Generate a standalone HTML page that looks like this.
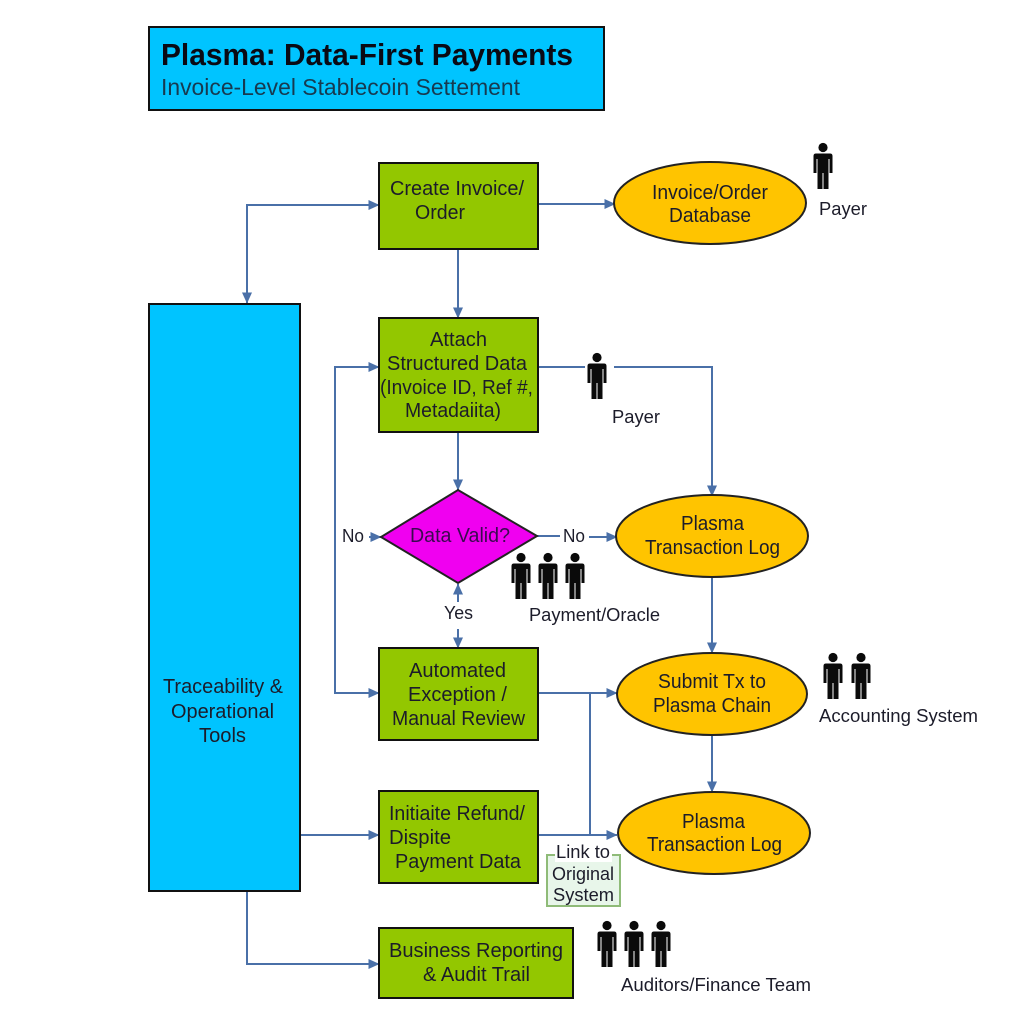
<!DOCTYPE html>
<html><head><meta charset="utf-8">
<style>
html,body{margin:0;padding:0;background:#fff}
svg{display:block}
text{font-family:"Liberation Sans",sans-serif;font-size:18px;fill:#1c1c2a}
g.b text{font-size:20px}
</style></head>
<body>
<svg width="1024" height="1024" viewBox="0 0 1024 1024" xmlns="http://www.w3.org/2000/svg">
<defs>
<marker id="a" markerWidth="12" markerHeight="12" refX="10.500" refY="5" orient="auto-start-reverse" markerUnits="userSpaceOnUse"><path d="M0 0L11 5L0 10Z" fill="#4a70a8"/></marker>
<g id="p" fill="#0a0a0a">
<circle cx="0" cy="4.500" r="4.600"/>
<path d="M-7 10.500Q-9.500 10.500-9.500 13V30H-6.500V16H-5.500V46H-0.500V30H0.500V46H5.500V16H6.500V30H9.500V13Q9.500 10.500 7 10.500Z"/>
</g>
</defs>
<rect width="1024" height="1024" fill="#fff"/>

<!-- connectors -->
<g fill="none" stroke="#4a70a8" stroke-width="2">
<path d="M538 204H615" marker-end="url(#a)"/>
<path d="M458 249V318" marker-end="url(#a)"/>
<path d="M379 205H247V303" marker-end="url(#a)" marker-start="url(#a)"/>
<path d="M458 432V490" marker-end="url(#a)"/>
<path d="M538 367H585M614 367H712V496" marker-end="url(#a)"/>
<path d="M379 367H335V693H379" marker-end="url(#a)" marker-start="url(#a)"/>
<path d="M369 537H381" marker-end="url(#a)"/>
<path d="M537 536H560"/>
<path d="M589 537H617" marker-end="url(#a)"/>
<path d="M458 602V584" marker-end="url(#a)"/>
<path d="M458 629V648" marker-end="url(#a)"/>
<path d="M538 693H617" marker-end="url(#a)"/>
<path d="M590 693V835"/>
<path d="M538 835H617" marker-end="url(#a)"/>
<path d="M712 577V653" marker-end="url(#a)"/>
<path d="M712 735V792" marker-end="url(#a)"/>
<path d="M300 835H379" marker-end="url(#a)"/>
<path d="M247 891V964H379" marker-end="url(#a)"/>
</g>

<!-- title -->
<rect x="149" y="27" width="455" height="83" fill="#00c4ff" stroke="#111" stroke-width="2"/>
<text x="161" y="65" style="font-size:30.500px;font-weight:700;fill:#0a0a14" textLength="412" lengthAdjust="spacingAndGlyphs">Plasma: Data-First Payments</text>
<text x="161" y="95" style="font-size:23.500px;fill:#173a50" textLength="359" lengthAdjust="spacingAndGlyphs">Invoice-Level Stablecoin Settement</text>

<!-- sidebar -->
<rect x="149" y="304" width="151" height="587" fill="#00c4ff" stroke="#111" stroke-width="2"/>

<!-- green boxes -->
<g fill="#93c700" stroke="#111" stroke-width="2">
<rect x="379" y="163" width="159" height="86"/>
<rect x="379" y="318" width="159" height="114"/>
<rect x="379" y="648" width="159" height="92"/>
<rect x="379" y="791" width="159" height="92"/>
<rect x="379" y="928" width="194" height="70"/>
</g>

<!-- ellipses -->
<g fill="#ffc400" stroke="#222" stroke-width="2">
<ellipse cx="710" cy="203" rx="96" ry="41"/>
<ellipse cx="712" cy="536" rx="96" ry="41"/>
<ellipse cx="712" cy="694" rx="95" ry="41"/>
<ellipse cx="714" cy="833" rx="96" ry="41"/>
</g>

<!-- diamond -->
<path d="M381 537L458 490L537 536L458 583Z" fill="#f000f0" stroke="#222" stroke-width="2"/>

<!-- link box -->
<rect x="547" y="855" width="73" height="51" fill="#e8f6ea" stroke="#8fbb78" stroke-width="2"/>
<rect x="555" y="848" width="57" height="14" fill="#fff"/>

<!-- people -->
<use href="#p" x="823" y="143"/>
<use href="#p" x="597" y="353"/>
<use href="#p" x="521" y="553"/>
<use href="#p" x="548" y="553"/>
<use href="#p" x="575" y="553"/>
<use href="#p" x="833" y="653"/>
<use href="#p" x="861" y="653"/>
<use href="#p" x="607" y="921"/>
<use href="#p" x="634" y="921"/>
<use href="#p" x="661" y="921"/>

<!-- labels inside shapes -->
<g class="b">
<text x="390" y="195" textLength="134" lengthAdjust="spacingAndGlyphs">Create Invoice/</text>
<text x="415" y="219" textLength="50" lengthAdjust="spacingAndGlyphs">Order</text>
<text x="652" y="199" textLength="116" lengthAdjust="spacingAndGlyphs">Invoice/Order</text>
<text x="669" y="222" textLength="82" lengthAdjust="spacingAndGlyphs">Database</text>
<text x="430" y="346" textLength="57" lengthAdjust="spacingAndGlyphs">Attach</text>
<text x="387" y="370" textLength="140" lengthAdjust="spacingAndGlyphs">Structured Data</text>
<text x="380" y="394" textLength="153" lengthAdjust="spacingAndGlyphs">(Invoice ID, Ref #,</text>
<text x="405" y="417" textLength="96" lengthAdjust="spacingAndGlyphs">Metadaiita)</text>
<text x="410" y="542" textLength="100" lengthAdjust="spacingAndGlyphs" style="fill:#3a0a50">Data Valid?</text>
<text x="681" y="530" textLength="63" lengthAdjust="spacingAndGlyphs">Plasma</text>
<text x="645" y="554" textLength="135" lengthAdjust="spacingAndGlyphs">Transaction Log</text>
<text x="409" y="677" textLength="97" lengthAdjust="spacingAndGlyphs">Automated</text>
<text x="408" y="701" textLength="99" lengthAdjust="spacingAndGlyphs">Exception /</text>
<text x="392" y="725" textLength="133" lengthAdjust="spacingAndGlyphs">Manual Review</text>
<text x="658" y="688" textLength="108" lengthAdjust="spacingAndGlyphs">Submit Tx to</text>
<text x="653" y="712" textLength="118" lengthAdjust="spacingAndGlyphs">Plasma Chain</text>
<text x="163" y="693" textLength="120" lengthAdjust="spacingAndGlyphs">Traceability &amp;</text>
<text x="171" y="718" textLength="103" lengthAdjust="spacingAndGlyphs">Operational</text>
<text x="199" y="742" textLength="47" lengthAdjust="spacingAndGlyphs">Tools</text>
<text x="389" y="820" textLength="136" lengthAdjust="spacingAndGlyphs">Initiaite Refund/</text>
<text x="389" y="844" textLength="62" lengthAdjust="spacingAndGlyphs">Dispite</text>
<text x="395" y="868" textLength="126" lengthAdjust="spacingAndGlyphs">Payment Data</text>
<text x="682" y="828" textLength="63" lengthAdjust="spacingAndGlyphs">Plasma</text>
<text x="647" y="851" textLength="135" lengthAdjust="spacingAndGlyphs">Transaction Log</text>
<text x="389" y="957" textLength="174" lengthAdjust="spacingAndGlyphs">Business Reporting</text>
<text x="423" y="981" textLength="107" lengthAdjust="spacingAndGlyphs">&amp; Audit Trail</text>
</g>

<!-- external labels -->
<text x="819" y="215" textLength="48" lengthAdjust="spacingAndGlyphs">Payer</text>
<text x="612" y="423" textLength="48" lengthAdjust="spacingAndGlyphs">Payer</text>
<text x="342" y="542" textLength="22" lengthAdjust="spacingAndGlyphs">No</text>
<text x="563" y="542" textLength="22" lengthAdjust="spacingAndGlyphs">No</text>
<text x="444" y="619" textLength="29" lengthAdjust="spacingAndGlyphs">Yes</text>
<text x="529" y="621" textLength="131" lengthAdjust="spacingAndGlyphs">Payment/Oracle</text>
<text x="819" y="722" textLength="159" lengthAdjust="spacingAndGlyphs">Accounting System</text>
<text x="556" y="858" textLength="54" lengthAdjust="spacingAndGlyphs">Link to</text>
<text x="552" y="880" textLength="62" lengthAdjust="spacingAndGlyphs">Original</text>
<text x="553" y="901" textLength="61" lengthAdjust="spacingAndGlyphs">System</text>
<text x="621" y="991" textLength="190" lengthAdjust="spacingAndGlyphs">Auditors/Finance Team</text>
</svg>
</body></html>
